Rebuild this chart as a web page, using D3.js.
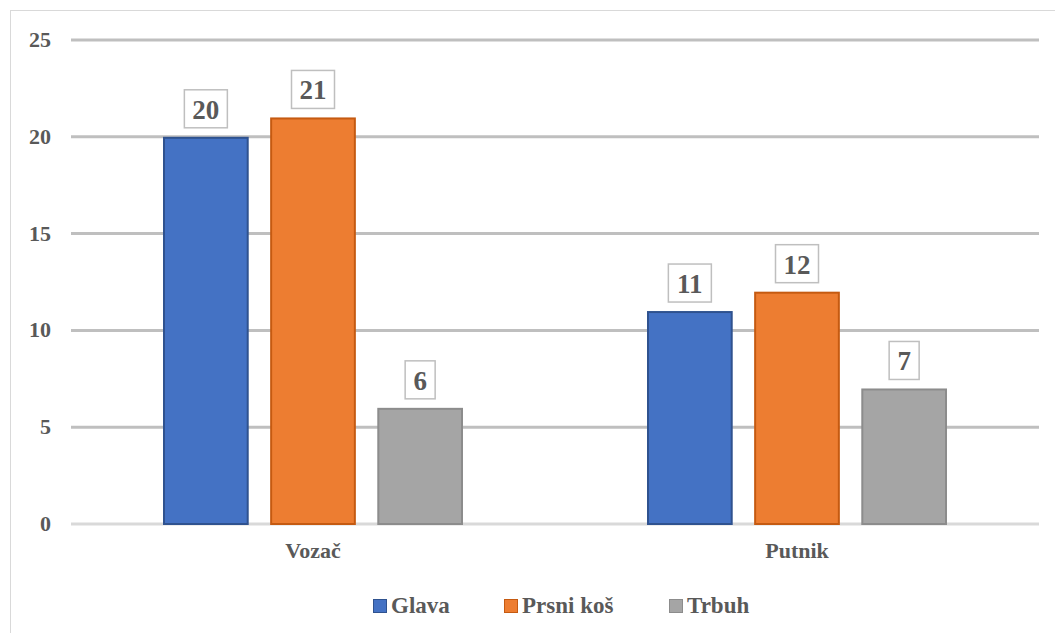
<!DOCTYPE html>
<html>
<head>
<meta charset="utf-8">
<script src="https://cdn.jsdelivr.net/npm/d3@7"></script>
</head>
<body style="margin:0; background:#fff">
<svg id="chart"></svg>
<script>
// data
let categories = ['Vozač', 'Putnik'];
let seriesNames = ['Glava', 'Prsni koš', 'Trbuh'];
let glava = [20, 11];
let prsniKos = [21, 12];
let trbuh = [6, 7];
let yTicks = [0, 5, 10, 15, 20, 25];

let seriesValues = [glava, prsniKos, trbuh];
let fills = ['#4472C4', '#ED7D31', '#A5A5A5'];
let strokes = ['#2F528F', '#C55A11', '#8C8C8C'];
let fontFam = 'Liberation Serif';
let textCol = '#595959';

// sizes
let widthSVG = 1055;
let heightSVG = 633;
let margins = { top: 40, bottom: 109, left: 71, right: 16 };
let width = widthSVG - margins.left - margins.right;
let height = heightSVG - margins.top - margins.bottom;

let SVG = d3.select('svg#chart')
  .attr('width', widthSVG)
  .attr('height', heightSVG);

// outer border
SVG.append('rect')
  .attr('x', 10.5).attr('y', 10.5)
  .attr('width', widthSVG).attr('height', heightSVG)
  .attr('fill', 'none')
  .attr('stroke', '#d9d9d9')
  .attr('stroke-width', 1);

let SVGG = SVG.append('g')
  .attr('transform', `translate(${margins.left}, ${margins.top})`);

// scales
let x0 = d3.scaleBand().domain(categories).range([0, width]);
let x1 = d3.scaleBand().domain(seriesNames).range([92, x0.bandwidth() - 92]).paddingInner(0.2);
let y = d3.scaleLinear().domain([0, 25]).range([height, 0]);

// gridlines
SVGG.append('g')
  .selectAll('line')
  .data(yTicks)
  .enter()
  .append('line')
  .attr('x1', 0)
  .attr('x2', width)
  .attr('y1', d => y(d))
  .attr('y2', d => y(d))
  .attr('stroke', d => d === 0 ? '#d9d9d9' : '#bfbfbf')
  .attr('stroke-width', 3);

// y tick labels
SVGG.append('g')
  .selectAll('text')
  .data(yTicks)
  .enter()
  .append('text')
  .text(d => d)
  .attr('x', -20)
  .attr('y', d => y(d) + 7)
  .attr('text-anchor', 'end')
  .attr('font-family', fontFam)
  .attr('font-weight', 'bold')
  .attr('fill', textCol)
  .attr('font-size', 22);

// bars
let catGroups = SVGG.selectAll('g.cat')
  .data(categories)
  .enter()
  .append('g')
  .attr('class', 'cat')
  .attr('transform', d => `translate(${x0(d)}, 0)`);

catGroups.each(function(cat, ci) {
  let g = d3.select(this);
  seriesNames.forEach((s, si) => {
    let v = seriesValues[si][ci];
    let bx = x1(s);
    let bw = x1.bandwidth();
    g.append('rect')
      .attr('x', bx + 1)
      .attr('y', y(v) + 1)
      .attr('width', bw - 2)
      .attr('height', y(0) - y(v) - 1)
      .attr('fill', fills[si])
      .attr('stroke', strokes[si])
      .attr('stroke-width', 2);

    // data label box
    let cx = bx + bw / 2;
    let boxW = v >= 10 ? 43 : 30;
    g.append('rect')
      .attr('x', cx - boxW / 2)
      .attr('y', y(v) - 47)
      .attr('width', boxW)
      .attr('height', 38)
      .attr('fill', '#fff')
      .attr('stroke', '#bfbfbf')
      .attr('stroke-width', 1.5);
    g.append('text')
      .text(v)
      .attr('x', cx)
      .attr('y', y(v) - 18)
      .attr('text-anchor', 'middle')
      .attr('font-family', fontFam)
      .attr('font-weight', 'bold')
      .attr('fill', textCol)
      .attr('font-size', 27);
  });

  g.append('text')
    .text(cat)
    .attr('x', x0.bandwidth() / 2)
    .attr('y', height + 34)
    .attr('text-anchor', 'middle')
    .attr('font-family', fontFam)
    .attr('font-weight', 'bold')
    .attr('fill', textCol)
    .attr('font-size', 22);
});

// legend
let legendX = [373, 504, 669];
let legend = SVG.append('g').attr('class', 'legend');
seriesNames.forEach((s, i) => {
  legend.append('rect')
    .attr('x', legendX[i] + 0.5)
    .attr('y', 599.5)
    .attr('width', 13)
    .attr('height', 13)
    .attr('fill', fills[i])
    .attr('stroke', strokes[i])
    .attr('stroke-width', 1);
  legend.append('text')
    .text(s)
    .attr('x', legendX[i] + 18)
    .attr('y', 613)
    .attr('font-family', fontFam)
    .attr('font-weight', 'bold')
    .attr('fill', textCol)
    .attr('font-size', 23);
});
</script>
</body>
</html>
